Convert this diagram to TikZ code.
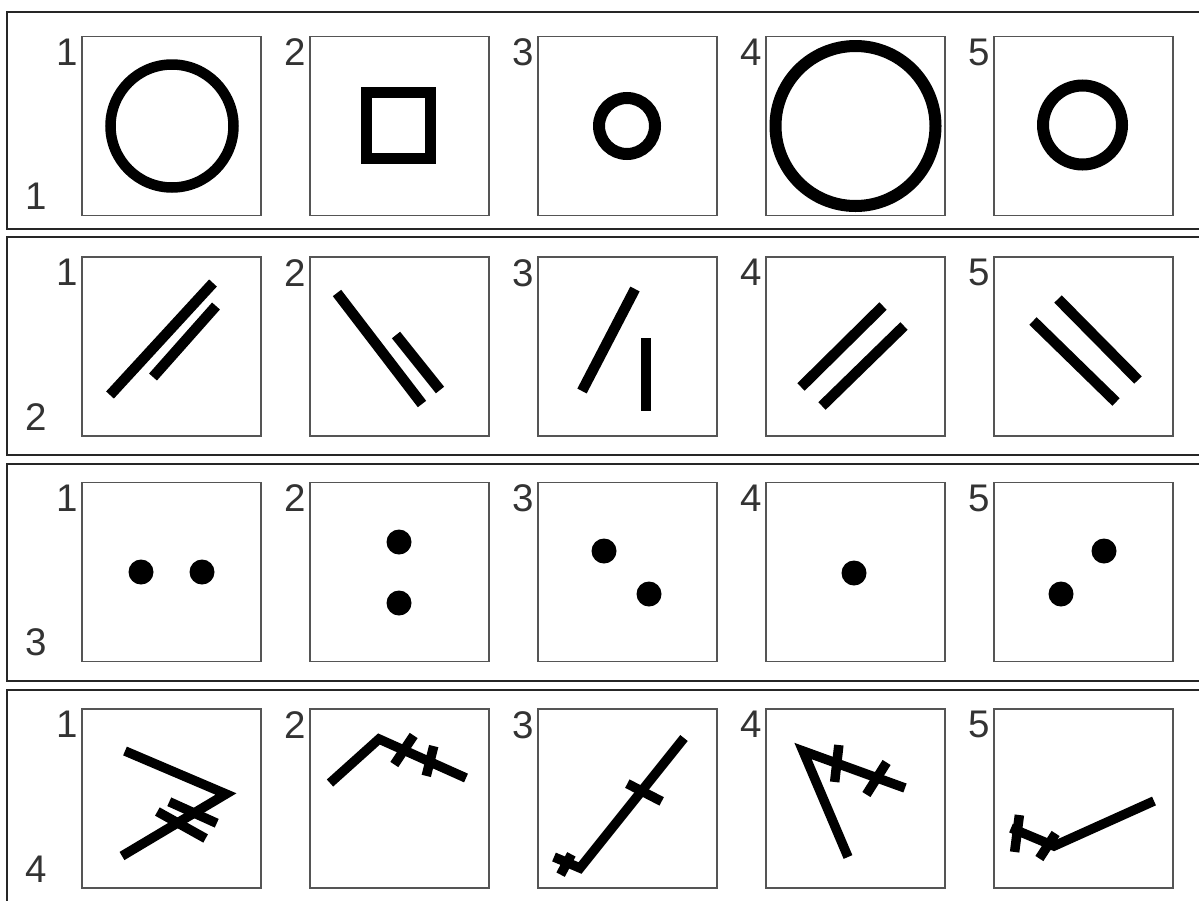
\documentclass[tikz,border=0pt]{standalone}
\usepackage{fontspec}
\setmainfont{Liberation Sans}
\usepackage{xcolor}
\definecolor{labgray}{HTML}{333333}
\definecolor{boxgray}{HTML}{555555}

\begin{document}
\begin{tikzpicture}[x=1pt,y=-1pt,
  frame/.style={draw=black!85,line width=2.2pt},
  panel/.style={draw=boxgray,line width=1.6pt,minimum size=179pt,inner sep=0pt},
  lab/.style={text=labgray,font=\fontsize{38.5}{42}\selectfont,inner sep=0pt},
  fig/.style={line width=10.5pt,line cap=butt,line join=miter},
  stick/.style={line width=9.5pt,line cap=butt,line join=miter},
  tick/.style={stick,shorten <=-3pt,shorten >=-3pt}]
\useasboundingbox (0,0) rectangle (1199,900);
\clip (0,0) rectangle (1199,900);
% row frames
\draw[frame] (7,12) rectangle (1210,229);
\draw[frame] (7,237) rectangle (1210,455);
\draw[frame] (7,464) rectangle (1210,681);
\draw[frame] (7,690) rectangle (1210,910);
% panels and numbers
\foreach \ro/\yc in {1/126,2/346.5,3/572,4/798.5} {
  \foreach \co in {1,...,5} {
    \node[panel] (p\ro\co) at ({171.5+228*(\co-1)},\yc) {};
    \node[lab,anchor=north east] (n\ro\co) at ([xshift=-3pt,yshift=-3pt]p\ro\co.north west) {\co};
  }
  \node[lab,anchor=south west] (row\ro) at (25,\yc+84) {\ro};
}
% row 1
\draw[fig,line width=10.5pt] (172,126) circle[radius=61.5];
\draw[fig,line width=11pt] (366.5,92.5) rectangle (430.5,158.5);
\draw[fig,line width=12pt] (627,126) circle[radius=28];
\draw[fig,line width=12pt] (855.5,126) circle[radius=80];
\draw[fig,line width=12pt] (1082.5,125) circle[radius=39.5];
% row 2
\draw[fig] (110,395)--(213,283);
\draw[fig] (153,377)--(216,306);
\draw[fig] (337,293)--(422,404);
\draw[fig] (396,335)--(440,390);
\draw[fig] (582,391)--(635,289);
\draw[fig] (646,338)--(646,411);
\draw[fig] (801,387)--(883,306);
\draw[fig] (822,406)--(904,326);
\draw[fig] (1058,299)--(1138,380);
\draw[fig] (1033,321)--(1116,402);
% row 3
\fill (141,572) circle[radius=12.5] (202,572) circle[radius=12.5];
\fill (399,542) circle[radius=12.5] (399,603) circle[radius=12.5];
\fill (604,551) circle[radius=12.5] (649,594) circle[radius=12.5];
\fill (854,573) circle[radius=12.5];
\fill (1104,551) circle[radius=12.5] (1061,594) circle[radius=12.5];
% row 4
\draw[stick] (125,751)--(226,794)--(122,856);
\draw[tick] (172,803)--(214,822);
\draw[tick] (160,813)--(203,837);
\draw[stick] (330,783)--(379,739)--(466,778);
\draw[tick] (412,738)--(396,762);
\draw[tick] (433,749)--(427,773);
\draw[stick] (684,738)--(580,868)--(554,857);
\draw[tick] (630,785)--(659,800);
\draw[tick] (570,857)--(562,872);
\draw[stick] (905,788)--(803,751)--(848,857);
\draw[tick] (838.5,748)--(835,779);
\draw[tick] (885,765)--(868,792);
\draw[stick] (1154,801)--(1054,846)--(1011,828);
\draw[tick] (1019,818)--(1015,849);
\draw[tick] (1054,836)--(1041,856);
\end{tikzpicture}
\end{document}
